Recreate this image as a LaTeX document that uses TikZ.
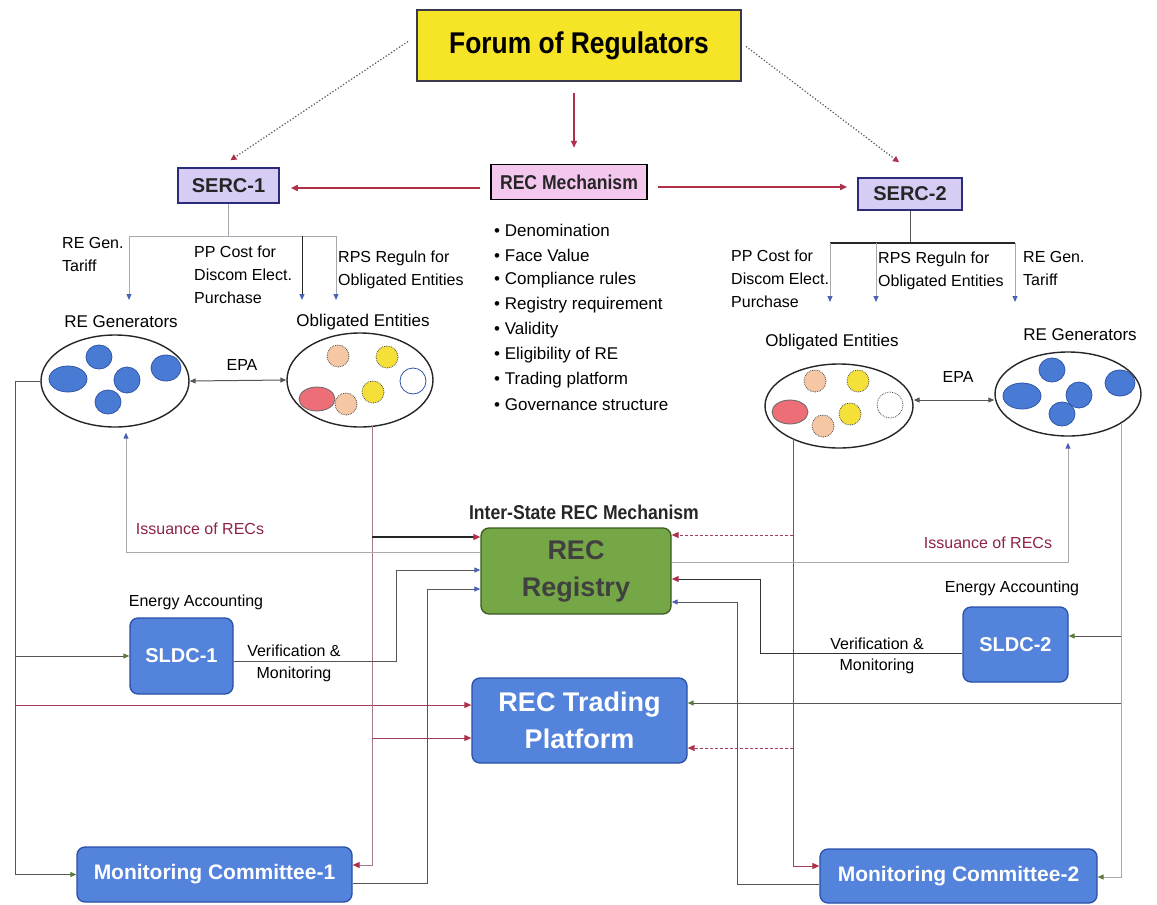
\documentclass[tikz,border=0pt]{standalone}
\usepackage{fontspec}
\setmainfont{Liberation Sans}
\newfontfamily\nb[FakeStretch=0.88]{Liberation Sans}
\usetikzlibrary{arrows.meta,calc,shapes.geometric}
\definecolor{forumY}{HTML}{F6E426}
\definecolor{forumB}{HTML}{3A3A4A}
\definecolor{sercF}{HTML}{D6CCF4}
\definecolor{sercB}{HTML}{2A2C7A}
\definecolor{mechF}{HTML}{F4C8EE}
\definecolor{arrR}{HTML}{B0304A}
\definecolor{regG}{HTML}{76A746}
\definecolor{regB}{HTML}{3A5A22}
\definecolor{boxB}{HTML}{5383DB}
\definecolor{boxBd}{HTML}{2A4FA8}
\definecolor{circB}{HTML}{4A7BD4}
\definecolor{circBd}{HTML}{2D55A8}
\definecolor{peach}{HTML}{F6C7A4}
\definecolor{yel}{HTML}{F5E03A}
\definecolor{pinkr}{HTML}{EE6E78}
\definecolor{issR}{HTML}{8E2444}
\definecolor{grnA}{HTML}{5C7A3A}
\definecolor{bluA}{HTML}{4A62B4}
\definecolor{lgray}{HTML}{A8A8B0}
\definecolor{dgray}{HTML}{555555}
\definecolor{redl}{HTML}{A04058}
\begin{document}
\begin{tikzpicture}[x=1pt,y=-1pt,
  forumbox/.style={draw=forumB,line width=2pt,fill=forumY,inner sep=0pt,
    font=\nb\bfseries\fontsize{30}{34}\selectfont},
  sercbox/.style={draw=sercB,line width=1.6pt,fill=sercF,inner sep=0pt,
    font=\bfseries\fontsize{20}{24}\selectfont,text=black!85},
  mechbox/.style={draw=black,line width=1.4pt,fill=mechF,inner sep=0pt,
    font=\nb\bfseries\fontsize{20}{24}\selectfont,text=black!85},
  regbox/.style={draw=regB,line width=1.3pt,fill=regG,rounded corners=8pt,inner sep=0pt,
    align=center,font=\bfseries\fontsize{27}{37}\selectfont,text=black!75},
  bluebox/.style={draw=boxBd,line width=1.3pt,fill=boxB,rounded corners=8pt,inner sep=0pt,
    align=center,text=white},
  oval/.style={ellipse,draw=black!85,line width=1.4pt,fill=white,inner sep=0pt},
  lab/.style={inner sep=0pt,font=\fontsize{16}{23}\selectfont,align=left,anchor=north west},
  bul/.style={inner sep=0pt,font=\fontsize{17}{25}\selectfont,anchor=west},
  tipR/.style={-{Triangle[length=7pt,width=6pt,color=arrR]}},
  tipRs/.style={-{Triangle[length=6pt,width=6pt,color=arrR]}},
  tipB/.style={-{Triangle[length=6pt,width=5pt,color=bluA]}},
  tipG/.style={-{Triangle[length=6pt,width=5pt,color=grnA]}},
  epa/.style={{Triangle[length=6pt,width=5pt,color=dgray]}-{Triangle[length=6pt,width=5pt,color=dgray]},draw=dgray,line width=1pt},
  redline/.style={draw=arrR,line width=1.6pt},
  dotl/.style={draw=dgray,line width=1.2pt,dotted},
  gline/.style={draw=lgray,line width=1pt},
  dline/.style={draw=dgray,line width=1pt},
  kline/.style={draw=black!85,line width=1.4pt},
  rline/.style={draw=redl,line width=1pt},
  rdline/.style={draw=redl,line width=1pt,densely dashed},
  blob/.style={line width=0.8pt}
]
\useasboundingbox (0,0) rectangle (1157,905);
\fill[white] (0,0) rectangle (1157,905);

% ---------- top boxes
\node[forumbox,minimum width=324,minimum height=71] (forum) at (579,45.5) {Forum of Regulators};
\node[sercbox,minimum width=101,minimum height=35] (serc1) at (228.5,185.5) {SERC-1};
\node[sercbox,minimum width=104,minimum height=32] (serc2) at (910,194) {SERC-2};
\node[mechbox,minimum width=156,minimum height=35] (mech) at (569,182) {REC Mechanism};

% bullets
\foreach \t [count=\i from 0] in {Denomination,Face Value,Compliance rules,Registry requirement,Validity,Eligibility of RE,Trading platform,Governance structure}
  \node[bul] (b\i) at (494,230+25*\i) {\textbullet\ \t};

% top connectors
\draw[redline,tipR] ($(forum.south)+(-5,11)$) -- ($(mech.north)+(5,-16)$);
\draw[redline,tipR] ($(mech.west)+(-10,6)$) -- ($(serc1.east)+(11,2.5)$);
\draw[redline,tipR] ($(mech.east)+(10,5)$) -- ($(serc2.west)+(-10,-7)$);
\draw[dotl,tipRs] ($(forum.west)+(-8,-4)$) -- ($(serc1.north)+(2,-7)$);
\draw[dotl,tipRs] ($(forum.east)+(4,1)$) -- ($(serc2.north)+(-11,-15)$);

% SERC-1 tree
\coordinate (b1L) at (129,236); \coordinate (b1M) at (302,236); \coordinate (b1R) at (336,236);
\coordinate (d1L) at (129,300); \coordinate (d1M) at (302,300); \coordinate (d1R) at (336,300);
\draw[gline] (serc1.south) -- (serc1.south |- b1L);
\draw[gline] (b1L) -- (b1R);
\draw[gline,tipB] (b1L) -- (d1L);
\draw[kline,line width=1pt,tipB] (b1M) -- (d1M);
\draw[gline,tipB] (b1R) -- (d1R);
\node[lab] (t1a) at (62,237) {RE Gen.\\Tariff};
\node[lab] (t1b) at (194,246) {PP Cost for\\Discom Elect.\\Purchase};
\node[lab] (t1c) at (338,251) {RPS Reguln for\\Obligated Entities};

% SERC-2 tree
\coordinate (b2L) at (830,243); \coordinate (b2M) at (876,243); \coordinate (b2R) at (1015,243);
\coordinate (d2L) at (830,302); \coordinate (d2M) at (876,302); \coordinate (d2R) at (1015,302);
\draw[dline] (serc2.south) -- (serc2.south |- b2L);
\draw[kline] (b2L) -- (b2R);
\draw[gline,tipB] (b2L) -- (d2L);
\draw[gline,tipB] (b2M) -- (d2M);
\draw[gline,tipB] (b2R) -- (d2R);
\node[lab] (t2a) at (731,250) {PP Cost for\\Discom Elect.\\Purchase};
\node[lab] (t2b) at (878,252) {RPS Reguln for\\Obligated Entities};
\node[lab] (t2c) at (1023,251) {RE Gen.\\Tariff};

% ---------- ellipses
\node[font=\fontsize{17}{20}\selectfont] (reg1lab) at (121,322) {RE Generators};
\node[font=\fontsize{17}{20}\selectfont] (obl1lab) at (363,322) {Obligated Entities};
\node[font=\fontsize{17}{20}\selectfont] (obl2lab) at (832,342) {Obligated Entities};
\node[font=\fontsize{17}{20}\selectfont] (reg2lab) at (1080,335) {RE Generators};
\node[oval,minimum width=148,minimum height=92] (reg1) at (115,381) {};
\node[oval,minimum width=146,minimum height=94] (obl1) at (360,380) {};
\node[oval,minimum width=148,minimum height=84] (obl2) at (839,406) {};
\node[oval,minimum width=146,minimum height=84] (reg2) at (1068,394) {};

% blobs RE gen 1 and 2
\foreach \cx/\cy/\rx/\ry in {68/379/19/13,99/357/13/12,127/380/13/13,166/368/15/13,108/402/13/12}
  \draw[blob,draw=circBd,fill=circB] (\cx,\cy) ellipse [x radius=\rx, y radius=\ry];
\foreach \cx/\cy/\rx/\ry in {1022/396/19/13,1052/370/13/12,1079/395/13/13,1120/383/15/13,1062/414/13/12}
  \draw[blob,draw=circBd,fill=circB] (\cx,\cy) ellipse [x radius=\rx, y radius=\ry];
% obligated 1
\draw[blob,draw=black!70,densely dotted,fill=peach] (338,356) ellipse [x radius=11,y radius=11];
\draw[blob,draw=black!70,densely dotted,fill=yel] (387,357) ellipse [x radius=11,y radius=11];
\draw[blob,draw=black!60,fill=pinkr] (317,399) ellipse [x radius=18,y radius=12];
\draw[blob,draw=black!70,densely dotted,fill=peach] (346,404) ellipse [x radius=11,y radius=11];
\draw[blob,draw=black!70,densely dotted,fill=yel] (373,392) ellipse [x radius=11,y radius=11];
\draw[blob,draw=circBd,fill=white] (413,381) ellipse [x radius=13,y radius=13];
% obligated 2
\draw[blob,draw=black!70,densely dotted,fill=peach] (815,381) ellipse [x radius=11,y radius=11];
\draw[blob,draw=black!70,densely dotted,fill=yel] (858,381) ellipse [x radius=11,y radius=11];
\draw[blob,draw=black!60,fill=pinkr] (790,412) ellipse [x radius=18,y radius=12];
\draw[blob,draw=black!70,densely dotted,fill=peach] (823,426) ellipse [x radius=11,y radius=11];
\draw[blob,draw=black!70,densely dotted,fill=yel] (850,414) ellipse [x radius=11,y radius=11];
\draw[blob,draw=black!70,densely dotted,fill=white] (890,405) ellipse [x radius=13,y radius=13];

% EPA
\draw[epa] (reg1.east) -- (obl1.west);
\node[font=\fontsize{16}{20}\selectfont] (epa1) at (242,365) {EPA};
\draw[epa] ($(obl2.east)+(0,-6)$) -- ($(reg2.west)+(0,6)$);
\node[font=\fontsize{16}{20}\selectfont] (epa2) at (958,377) {EPA};

% ---------- central boxes
\node[font=\nb\bfseries\fontsize{20}{24}\selectfont,text=black!85] (inter) at (584,512) {Inter-State REC Mechanism};
\node[regbox,minimum width=190,minimum height=86] (reg) at (576,571) {REC\\Registry};
\node[bluebox,minimum width=215,minimum height=85,font=\bfseries\fontsize{27}{37}\selectfont] (trade) at (579.5,720.5) {REC Trading\\Platform};
\node[bluebox,minimum width=103,minimum height=76,font=\bfseries\fontsize{20}{24}\selectfont] (sldc1) at (181.5,656) {SLDC-1};
\node[bluebox,minimum width=105,minimum height=75,font=\bfseries\fontsize{20}{24}\selectfont] (sldc2) at (1015.5,644.5) {SLDC-2};
\node[bluebox,minimum width=275,minimum height=55,font=\bfseries\fontsize{21}{24}\selectfont] (mc1) at (214.5,874.5) {Monitoring Committee-1};
\node[bluebox,minimum width=277,minimum height=54,font=\bfseries\fontsize{21}{24}\selectfont] (mc2) at (958.5,876) {Monitoring Committee-2};

\node[font=\fontsize{16}{20}\selectfont] (ea1) at (196,602) {Energy Accounting};
\node[font=\fontsize{16}{20}\selectfont] (ea2) at (1012,588) {Energy Accounting};
\node[font=\fontsize{16}{22}\selectfont,align=center] (vm1) at (294,663) {Verification \&\\Monitoring};
\node[font=\fontsize{16}{21}\selectfont,align=center] (vm2) at (877,656) {Verification \&\\Monitoring};
\node[font=\fontsize{16}{20}\selectfont,text=issR] (iss1lab) at (200,529) {Issuance of RECs};
\node[font=\fontsize{16}{20}\selectfont,text=issR] (iss2lab) at (988,543) {Issuance of RECs};

% ---------- left connectors
\coordinate (L1) at (15,381);
\draw[dline,tipG] (reg1.west) -- (L1) -- (L1 |- mc1.west) -- (mc1.west);
\draw[dline,tipG] (L1 |- sldc1.west) -- (sldc1.west);
\coordinate (tw1) at ($(trade.west)+(0,-15.5)$);
\draw[rline,tipR] (L1 |- tw1) -- (tw1);

\coordinate (o1) at ($(obl1.center)+(12,46)$);
\coordinate (mc1in) at ($(mc1.east)+(0,-9.5)$);
\draw[rline,draw=redl!45!lgray,tipR] (o1) |- (mc1in);
\coordinate (r1a) at ($(reg.west)+(0,-34)$);
\draw[kline,tipR] (o1 |- r1a) -- (r1a);
\coordinate (tw2) at ($(trade.west)+(0,17.5)$);
\draw[rline,tipR] (o1 |- tw2) -- (tw2);

\coordinate (r1b) at ($(reg.west)+(0,-19)$);
\coordinate (iss1) at ($(reg1.south)+(11,5)$);
\draw[gline,tipB] (r1b) -| (iss1);

\coordinate (s1o) at ($(sldc1.east)+(0,5)$);
\coordinate (k1) at (396,570);
\coordinate (r1c) at ($(reg.west)+(0,-1)$);
\draw[dline,tipB] (s1o) -| (k1) -- (r1c);

\coordinate (m1o) at ($(mc1.east)+(0,8.5)$);
\coordinate (k2) at (427,589);
\coordinate (r1d) at ($(reg.west)+(0,18)$);
\draw[dline,tipB] (m1o) -| (k2) -- (r1d);

% ---------- right connectors
\coordinate (o2) at ($(obl2.center)+(-46,33)$);
\coordinate (mc2in) at ($(mc2.west)+(0,-10)$);
\draw[rline,tipR] (o2) |- (mc2in);
\coordinate (r2a) at ($(reg.east)+(0,-36)$);
\draw[rdline,tipR] (o2 |- r2a) -- (r2a);
\coordinate (tw3) at ($(trade.east)+(0,27.5)$);
\draw[rdline,tipR] (o2 |- tw3) -- (tw3);

\coordinate (g2) at ($(reg2.center)+(53,29)$);
\coordinate (mc2r) at ($(mc2.east)+(0,1)$);
\draw[gline,tipG] (g2) |- (mc2r);
\coordinate (s2r) at ($(sldc2.east)+(0,-8.5)$);
\draw[dline,tipG] (g2 |- s2r) -- (s2r);
\coordinate (tw4) at ($(trade.east)+(0,-17.5)$);
\draw[dline,tipG] (g2 |- tw4) -- (tw4);

\coordinate (r2b) at ($(reg.east)+(0,-9)$);
\coordinate (iss2) at ($(reg2.south)+(0,6)$);
\draw[gline,tipB] (r2b) -| (iss2);

\coordinate (s2o) at ($(sldc2.west)+(0,8.5)$);
\coordinate (k3) at (760,579);
\coordinate (r2c) at ($(reg.east)+(0,8)$);
\draw[draw=black!80,line width=1pt,tipR] (s2o) -| (k3) -- (r2c);

\coordinate (m2o) at ($(mc2.west)+(0,8)$);
\coordinate (k4) at (737,602);
\coordinate (r2d) at ($(reg.east)+(0,31)$);
\draw[dline,tipB] (m2o) -| (k4) -- (r2d);
\end{tikzpicture}
\end{document}
